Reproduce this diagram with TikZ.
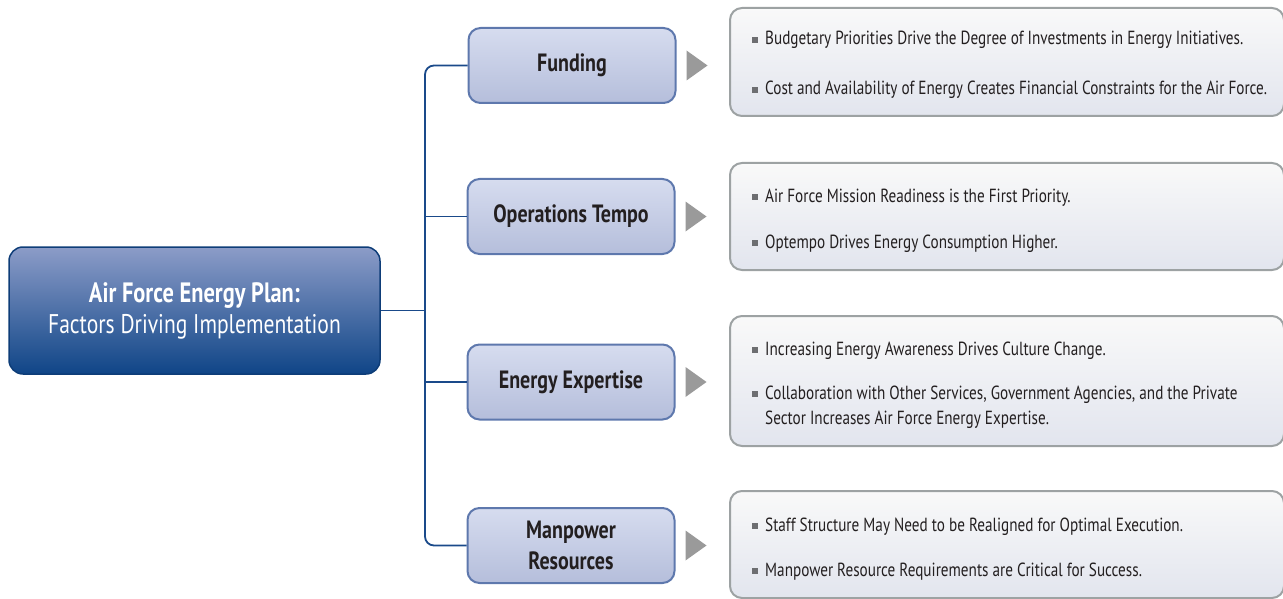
\documentclass[tikz,border=0pt]{standalone}
\usepackage{fontspec}
\setmainfont{PT Sans}[FakeStretch=0.80]
\usetikzlibrary{calc,shapes.geometric}
\definecolor{maintop}{HTML}{8C9CC8}
\definecolor{mainbot}{HTML}{0F4587}
\definecolor{mainborder}{HTML}{0E3D78}
\definecolor{connblue}{HTML}{1A4A8A}
\definecolor{cattop}{HTML}{D6DCEF}
\definecolor{catbot}{HTML}{B5BEDB}
\definecolor{catborder}{HTML}{5E78AD}
\definecolor{trigray}{HTML}{9A9A9A}
\definecolor{detborder}{HTML}{9DA2A3}
\definecolor{dettop}{HTML}{F9F9F9}
\definecolor{detbot}{HTML}{E2E5EE}
\definecolor{txt}{HTML}{231F20}
\definecolor{bulgray}{HTML}{6D6E71}
\newcommand{\bul}{{\color{bulgray}\rule[2pt]{6pt}{6pt}}\hspace{7pt}}
\tikzset{
  mainbox/.style={draw=mainborder, line width=1.5pt, rounded corners=14pt,
    top color=maintop, bottom color=mainbot, minimum width=371pt, minimum height=127pt,
    text=white, align=center, font=\fontsize{27}{31}\selectfont, inner sep=0pt},
  catbox/.style={draw=catborder, line width=2pt, rounded corners=12pt,
    top color=cattop, bottom color=catbot, minimum width=207pt, minimum height=75pt,
    text=txt, align=center, font=\bfseries\fontsize{25}{31}\selectfont, inner sep=0pt},
  detbox/.style={draw=detborder, line width=2pt, rounded corners=12pt,
    top color=dettop, bottom color=detbot, minimum width=554pt, anchor=west, inner sep=0pt},
  item/.style={anchor=base west, text=txt, font=\fontsize{19}{25}\selectfont, inner sep=0pt},
  conn/.style={draw=connblue, line width=1.8pt},
  tri/.style={fill=trigray}
}
\begin{document}
\begin{tikzpicture}[x=1pt,y=-1pt]
\useasboundingbox (0,0) rectangle (1283,599);

% main box
\node[mainbox] (main) at (194.5,310.5) {{\fontsize{28}{31}\selectfont\textbf{Air Force Energy Plan:}}\\Factors Driving Implementation};

% category boxes
\node[catbox] (f) at (572,65.5) {Funding};
\node[catbox] (o) at (571,216.5) {Operations Tempo};
\node[catbox] (e) at (571,382) {Energy Expertise};
\node[catbox] (m) at (571,545.5) {Manpower\\Resources};

% connectors
\coordinate (trunk) at (425,0);
\draw[conn, rounded corners=9pt] (f.west) -- (f.west -| trunk) -- (m.west -| trunk) -- (m.west);
\draw[conn] (main.east) -- (main.east -| trunk);
\draw[conn] (o.west -| trunk) -- (o.west);
\draw[conn] (e.west -| trunk) -- (e.west);

% triangles
\foreach \n in {f,o,e,m}{
  \fill[tri] ($(\n.east)+(10,-15)$) -- ++(21,15) -- ++(-21,15) -- cycle;
}

% detail boxes
\node[detbox, minimum height=108pt] (df) at (729,62) {};
\node[detbox, minimum height=107pt] (do) at (729,216.5) {};
\node[detbox, minimum height=130pt] (de) at (729,381) {};
\node[detbox, minimum height=107pt] (dm) at (729,544.5) {};

% detail texts
\node[item] (f1) at (752,45) {\bul Budgetary Priorities Drive the Degree of Investments in Energy Initiatives.};
\node[item] (f2) at (752,95) {\bul Cost and Availability of Energy Creates Financial Constraints for the Air Force.};
\node[item] (o1) at (752,202) {\bul Air Force Mission Readiness is the First Priority.};
\node[item] (o2) at (752,248) {\bul Optempo Drives Energy Consumption Higher.};
\node[item] (e1) at (752,355) {\bul Increasing Energy Awareness Drives Culture Change.};
\node[item, align=left] (e2) at (752,424) {\bul Collaboration with Other Services, Government Agencies, and the Private\\\hspace*{13pt}Sector Increases Air Force Energy Expertise.};
\node[item] (m1) at (752,531) {\bul Staff Structure May Need to be Realigned for Optimal Execution.};
\node[item] (m2) at (752,576) {\bul Manpower Resource Requirements are Critical for Success.};
\end{tikzpicture}
\end{document}
